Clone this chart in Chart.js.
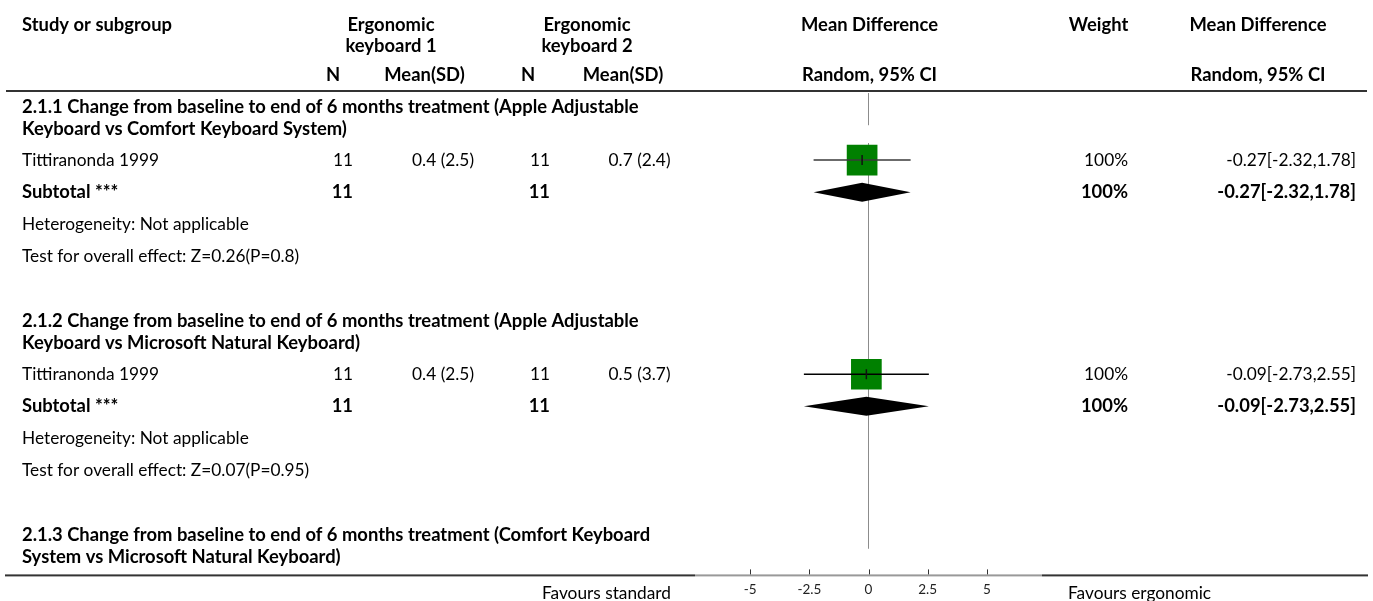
<!DOCTYPE html>
<html>
<head>
<meta charset="utf-8">
<script src="https://cdn.jsdelivr.net/npm/chart.js@4.4.1/dist/chart.umd.min.js"></script>
<style>
  html, body { margin: 0; padding: 0; background: #fff; }
  #wrap { width: 1373px; height: 601px; }
</style>
</head>
<body>
<div id="wrap"><canvas id="forest" width="1373" height="601"></canvas></div>
<script>
// ---- Data ----
const subgroupTitles = [
  ["2.1.1 Change from baseline to end of 6 months treatment (Apple Adjustable", "Keyboard vs Comfort Keyboard System)"],
  ["2.1.2 Change from baseline to end of 6 months treatment (Apple Adjustable", "Keyboard vs Microsoft Natural Keyboard)"],
  ["2.1.3 Change from baseline to end of 6 months treatment (Comfort Keyboard", "System vs Microsoft Natural Keyboard)"]
];
const studyNames = ["Tittiranonda 1999", "Tittiranonda 1999"];
const n1 = [11, 11];
const mean1 = [0.4, 0.4];
const sd1 = [2.5, 2.5];
const n2 = [11, 11];
const mean2 = [0.7, 0.5];
const sd2 = [2.4, 3.7];
const md = [-0.27, -0.09];
const ciLow = [-2.32, -2.73];
const ciHigh = [1.78, 2.55];
const weights = [100, 100];
const subtotalN1 = [11, 11];
const subtotalN2 = [11, 11];
const subtotalMd = [-0.27, -0.09];
const subtotalLow = [-2.32, -2.73];
const subtotalHigh = [1.78, 2.55];
const subtotalWeight = [100, 100];
const heterogeneity = ["Heterogeneity: Not applicable", "Heterogeneity: Not applicable"];
const overallEffect = ["Test for overall effect: Z=0.26(P=0.8)", "Test for overall effect: Z=0.07(P=0.95)"];
const xTicks = [-5, -2.5, 0, 2.5, 5];
const xRange = [-7.33, 7.33];
const favourLeft = "Favours standard";
const favourRight = "Favours ergonomic";

// ---- Row layout (vertical units of the y scale) ----
const FONT = "Lato, 'Open Sans', sans-serif";
const REG = 17.3;
const BOLD = 18.4;
const CHART_BOTTOM = 574;
const rows = [];          // {kind, group, y}
(function buildRows() {
  let y = 107;
  for (let g = 0; g < subgroupTitles.length; g++) {
    rows.push({ kind: 'title', group: g, y: y, y2: y + 22 });
    if (g >= studyNames.length) break;
    y += 53;
    rows.push({ kind: 'study', group: g, y: y });
    y += 32;
    rows.push({ kind: 'subtotal', group: g, y: y });
    y += 32;
    rows.push({ kind: 'het', group: g, y: y });
    y += 32;
    rows.push({ kind: 'test', group: g, y: y });
    y += 65;
  }
})();
const rowY = (kind, g) => rows.find(r => r.kind === kind && r.group === g).y;

const fmt = v => v.toFixed(2);
const ciText = (m, lo, hi) => fmt(m) + '[' + fmt(lo) + ',' + fmt(hi) + ']';

// ---- Datasets ----
const datasets = [];
// centre tick of each estimate
datasets.push({
  type: 'scatter',
  data: md.map((m, i) => ({ x: m, y: rowY('study', i) })),
  pointStyle: 'line', rotation: 90, pointRadius: 5,
  borderColor: '#111', borderWidth: 1.5, backgroundColor: '#111'
});
// confidence interval whiskers
md.forEach((m, i) => {
  datasets.push({
    type: 'line',
    data: [{ x: ciLow[i], y: rowY('study', i) }, { x: ciHigh[i], y: rowY('study', i) }],
    borderColor: i === 0 ? '#3a3a3a' : '#000', borderWidth: 1.5, pointRadius: 0, fill: false
  });
});
// weight squares
datasets.push({
  type: 'scatter',
  data: md.map((m, i) => ({ x: m, y: rowY('study', i) })),
  pointStyle: 'rect',
  pointRadius: weights.map(w => 21.7 * Math.sqrt(w / 100)),
  backgroundColor: '#008000', borderWidth: 0
});
// pooled diamonds
subtotalMd.forEach((m, i) => {
  const y = rowY('subtotal', i);
  const h = 9.5;
  datasets.push({
    type: 'line',
    data: [
      { x: subtotalLow[i], y: y }, { x: m, y: y - h },
      { x: subtotalHigh[i], y: y }, { x: m, y: y + h },
      { x: subtotalLow[i], y: y }
    ],
    borderColor: '#000', borderWidth: 0, backgroundColor: '#000',
    pointRadius: 0, fill: 'shape', tension: 0
  });
});
// line of no effect
datasets.push({
  type: 'line',
  data: [{ x: 0, y: 93 }, { x: 0, y: 125 }, { x: 0, y: null }, { x: 0, y: 143 }, { x: 0, y: 548 }],
  borderColor: '#8c8c8c', borderWidth: 1, pointRadius: 0, fill: false, spanGaps: false
});

// ---- Table text, rules and axis baseline ----
const tablePlugin = {
  id: 'forestTable',
  afterDraw(chart) {
    const ctx = chart.ctx;
    const ys = chart.scales.y;
    const xs = chart.scales.x;
    const area = chart.chartArea;
    const Y = v => ys.getPixelForValue(v);
    const bold = sz => 'bold ' + sz + 'px ' + FONT;
    const reg = sz => sz + 'px ' + FONT;
    const text = (s, x, y, align, font) => {
      ctx.font = font; ctx.textAlign = align; ctx.textBaseline = 'middle';
      ctx.fillStyle = '#000'; ctx.fillText(s, x, y);
    };
    ctx.save();
    // header
    const H = BOLD;
    text('Study or subgroup', 22, 25, 'left', bold(H));
    text('Ergonomic', 391, 25, 'center', bold(H));
    text('keyboard 1', 391, 46, 'center', bold(H));
    text('Ergonomic', 587, 25, 'center', bold(H));
    text('keyboard 2', 587, 46, 'center', bold(H));
    text('Mean Difference', 869.5, 25, 'center', bold(H));
    text('Weight', 1098.5, 25, 'center', bold(H));
    text('Mean Difference', 1258, 25, 'center', bold(H));
    text('N', 333, 75, 'center', bold(H));
    text('Mean(SD)', 424.5, 75, 'center', bold(H));
    text('N', 528, 75, 'center', bold(H));
    text('Mean(SD)', 623, 75, 'center', bold(H));
    text('Random, 95% CI', 869.5, 75, 'center', bold(H));
    text('Random, 95% CI', 1258, 75, 'center', bold(H));

    // rules
    ctx.fillStyle = '#333';
    ctx.fillRect(6, 90, 1361, 2);
    ctx.fillRect(5, area.bottom, area.left - 5, 2);
    ctx.fillRect(area.right, area.bottom, 1368 - area.right, 2);
    ctx.fillStyle = '#999';
    ctx.fillRect(area.left, area.bottom, area.right - area.left, 2);
    ctx.fillStyle = '#333';
    xs.ticks.forEach(t => {
      const px = Math.round(xs.getPixelForValue(t.value));
      ctx.fillRect(px, area.bottom - 5, 1, 5);
    });

    // body rows
    rows.forEach(r => {
      const y = Y(r.y);
      const g = r.group;
      if (r.kind === 'title') {
        text(subgroupTitles[g][0], 22, y, 'left', bold(BOLD));
        text(subgroupTitles[g][1], 22, Y(r.y2), 'left', bold(BOLD));
      } else if (r.kind === 'study') {
        text(studyNames[g], 22, y, 'left', reg(REG));
        text(String(n1[g]), 353, y, 'right', reg(REG));
        text(mean1[g] + ' (' + sd1[g] + ')', 474, y, 'right', reg(REG));
        text(String(n2[g]), 550, y, 'right', reg(REG));
        text(mean2[g] + ' (' + sd2[g] + ')', 670.5, y, 'right', reg(REG));
        text(weights[g] + '%', 1128, y, 'right', reg(REG));
        text(ciText(md[g], ciLow[g], ciHigh[g]), 1356, y, 'right', reg(REG));
      } else if (r.kind === 'subtotal') {
        text('Subtotal ***', 22, y, 'left', bold(BOLD));
        text(String(subtotalN1[g]), 353, y, 'right', bold(BOLD));
        text(String(subtotalN2[g]), 550, y, 'right', bold(BOLD));
        text(subtotalWeight[g] + '%', 1128, y, 'right', bold(BOLD));
        text(ciText(subtotalMd[g], subtotalLow[g], subtotalHigh[g]), 1356, y, 'right', bold(BOLD));
      } else if (r.kind === 'het') {
        text(heterogeneity[g], 22, y, 'left', reg(REG));
      } else if (r.kind === 'test') {
        text(overallEffect[g], 22, y, 'left', reg(REG));
      }
    });

    text(favourLeft, 671, 593, 'right', reg(REG));
    text(favourRight, 1068, 593, 'left', reg(REG));
    ctx.restore();
  }
};

new Chart(document.getElementById('forest'), {
  type: 'scatter',
  data: { datasets },
  options: {
    responsive: false,
    animation: false,
    events: [],
    layout: { autoPadding: false, padding: { left: 695, right: 331, top: 0, bottom: -3.6 } },
    plugins: { legend: { display: false }, tooltip: { enabled: false } },
    scales: {
      x: {
        type: 'linear', min: xRange[0], max: xRange[1],
        afterBuildTicks: s => { s.ticks = xTicks.map(v => ({ value: v })); },
        grid: { display: false, drawTicks: false, tickLength: 0 },
        border: { display: false },
        ticks: {
          padding: 7, color: '#222', autoSkip: false, maxRotation: 0,
          font: { family: FONT, size: 13.5 },
          callback: v => String(v)
        }
      },
      y: {
        type: 'linear', min: 0, max: CHART_BOTTOM, reverse: true, display: false
      }
    }
  },
  plugins: [tablePlugin]
});
</script>
</body>
</html>
